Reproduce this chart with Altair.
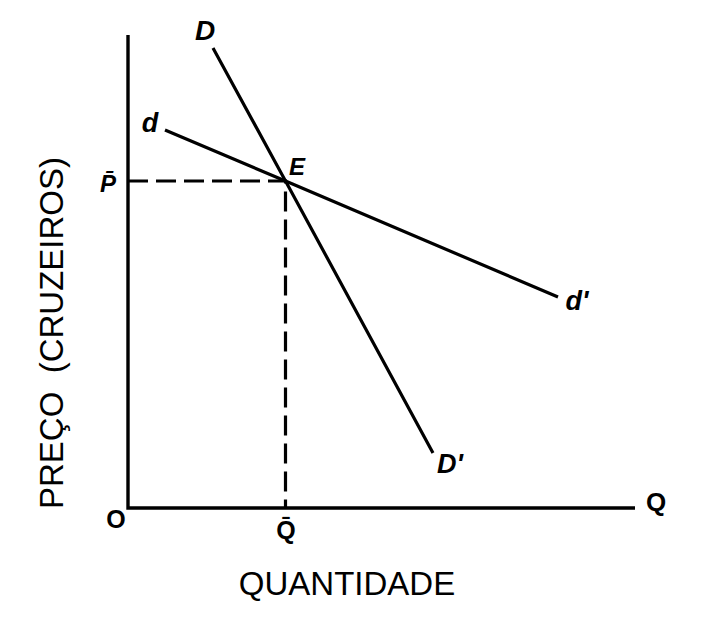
import altair as alt
import pandas as pd

# Demand curves (economic units: quantity on x, price on y)
curve_D_x = [1.70, 3.15, 6.10]
curve_D_y = [9.20, 6.54, 1.10]
curve_d_x = [0.74, 3.15, 8.60]
curve_d_y = [7.56, 6.54, 4.22]

# Equilibrium
q_bar = 3.15
p_bar = 6.54

# Axes extents
x_axis_end = 10.14
y_axis_end = 9.46

# Curve / point labels
italic_labels = ["D", "d", "E", "P̄", "d'", "D'"]
italic_x = [1.54, 0.44, 3.38, -0.40, 8.98, 6.44]
italic_y = [9.52, 7.68, 6.80, 6.46, 4.12, 0.86]
italic_size = [28, 27, 24, 24, 27, 27]

upright_labels = ["O", "Q̄", "Q"]
upright_x = [-0.24, 3.16, 10.56]
upright_y = [-0.24, -0.46, 0.10]
upright_size = [25, 25, 26]

x_title = "QUANTIDADE"
y_title = "PREÇO \u00a0(CRUZEIROS)"

XS = alt.Scale(domain=[-2.4, 11.8], nice=False, zero=False)
YS = alt.Scale(domain=[-2.14, 10], nice=False, zero=False)

def X(field="x"):
    return alt.X(f"{field}:Q", scale=XS, axis=None)

def Y(field="y"):
    return alt.Y(f"{field}:Q", scale=YS, axis=None)

axes_df = pd.DataFrame({"x": [0, 0, x_axis_end], "y": [y_axis_end, 0, 0], "o": [0, 1, 2]})
axes = alt.Chart(axes_df).mark_line(color="black", strokeWidth=3.4, strokeJoin="miter").encode(
    x=X(), y=Y(), order="o:Q")

dash_df = pd.DataFrame({"x": [0, q_bar, q_bar], "y": [p_bar, p_bar, 0], "o": [0, 1, 2]})
dashes = alt.Chart(dash_df).mark_line(color="black", strokeWidth=3.2, strokeDash=[20, 8]).encode(
    x=X(), y=Y(), order="o:Q")

curves_df = pd.DataFrame({
    "x": curve_D_x + curve_d_x,
    "y": curve_D_y + curve_d_y,
    "c": ["D"] * 3 + ["d"] * 3,
    "o": [0, 1, 2] * 2,
})
curves = alt.Chart(curves_df).mark_line(color="black", strokeWidth=3.2).encode(
    x=X(), y=Y(), detail="c:N", order="o:Q")

ital_df = pd.DataFrame({"t": italic_labels, "x": italic_x, "y": italic_y, "s": italic_size})
ital = alt.Chart(ital_df).mark_text(
    font="Liberation Sans", fontStyle="italic", fontWeight="bold", color="black",
    align="center", baseline="middle").encode(
    x=X(), y=Y(), text="t:N", size=alt.Size("s:Q", scale=None, legend=None))

up_df = pd.DataFrame({"t": upright_labels, "x": upright_x, "y": upright_y, "s": upright_size})
up = alt.Chart(up_df).mark_text(
    font="Liberation Sans", fontWeight="bold", color="black",
    align="center", baseline="middle").encode(
    x=X(), y=Y(), text="t:N", size=alt.Size("s:Q", scale=None, legend=None))

xt_df = pd.DataFrame({"t": [x_title], "x": [4.38], "y": [-1.54]})
xt = alt.Chart(xt_df).mark_text(
    font="Liberation Sans", fontSize=33, color="black", align="center", baseline="middle").encode(
    x=X(), y=Y(), text="t:N")

yt_df = pd.DataFrame({"t": [y_title], "x": [-1.50], "y": [3.50]})
yt = alt.Chart(yt_df).mark_text(
    font="Liberation Sans", fontSize=33, color="black", angle=270,
    align="center", baseline="middle").encode(
    x=X(), y=Y(), text="t:N")

chart = alt.layer(axes, dashes, curves, ital, up, xt, yt).properties(
    width=710, height=607, padding=0,
    autosize=alt.AutoSizeParams(type="none"),
    background="white",
).configure_view(stroke=None)

chart.save("out.html", embed_options={"renderer": "svg", "actions": False})
